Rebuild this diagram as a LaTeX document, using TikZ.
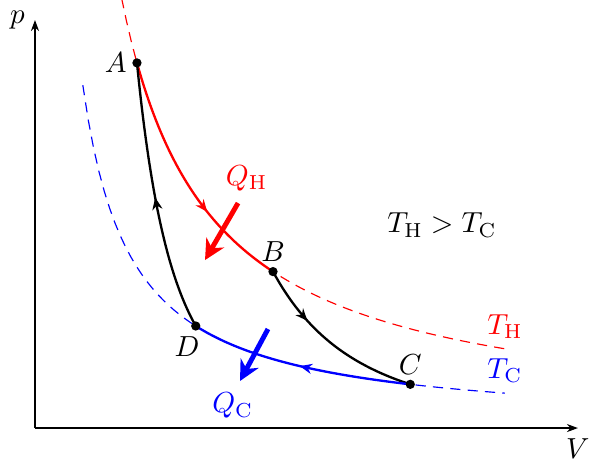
\documentclass[tikz,border=0pt]{standalone}
\usetikzlibrary{arrows.meta,decorations.markings}
\tikzset{
  midarrow/.style={postaction={decorate},decoration={markings,
    mark=at position #1 with {\arrow{Stealth[length=4.2pt,width=3.5pt]}}}},
  midarrow/.default=0.5,
  heat/.style={line width=1.7pt,-{Stealth[length=7pt,width=7pt]}},
  iso/.style={dash pattern=on 3.5pt off 2.5pt}
}
\begin{document}
\begin{tikzpicture}[>={Stealth[length=3.8pt,width=2.8pt]}]
\useasboundingbox (-0.424,-0.485) rectangle (6.848,5.188);
\pgfmathsetmacro\kH{5.47}
\pgfmathsetmacro\kC{2.41}
\pgfmathsetmacro\gam{2.8}
\pgfmathsetmacro\VA{1.236}
\pgfmathsetmacro\VB{2.885}
\pgfmathsetmacro\rat{(\kH/\kC)^(1/(\gam-1))}
\pgfmathsetmacro\VC{\VB*\rat}
\pgfmathsetmacro\VD{\VA*\rat}
\coordinate (A) at (\VA,{\kH/\VA});
\coordinate (B) at (\VB,{\kH/\VB});
\coordinate (C) at (\VC,{\kC/\VC});
\coordinate (D) at (\VD,{\kC/\VD});

\draw[->](0,0)--(6.58,0)node[below](lV){$V$};
\draw[->](0,0)--(0,4.945)node[left](lp){$p$};

% isotherms
\draw[red,iso,domain=1.05:5.697,samples=80] plot (\x,{\kH/\x}) node[above](lTH){$T_\mathrm{H}$};
\draw[blue,iso,domain=0.58:5.697,samples=80] plot (\x,{\kC/\x}) node[above](lTC){$T_\mathrm{C}$};

% cycle
\draw[red,thick,midarrow=.65,domain=\VA:\VB,samples=60] plot (\x,{\kH/\x});
\draw[thick,midarrow=.33,domain=\VB:\VC,samples=60] plot (\x,{\kH/\VB*pow(\VB/\x,\gam)});
\draw[blue,thick,midarrow,domain=\VC:\VD,samples=60] plot (\x,{\kC/\x});
\draw[thick,midarrow,domain=\VD:\VA,samples=60] plot (\x,{\kH/\VA*pow(\VA/\x,\gam)});

\fill (A) circle (1.6pt) node[left](lA){$A$};
\fill (B) circle (1.6pt) node[above](lB){$B$};
\fill (C) circle (1.6pt) node[above](lC){$C$};
\fill (D) circle (1.6pt) node[below,xshift=-3pt](lD){$D$};

% heat
\coordinate (qh1) at (2.461,2.727);
\coordinate (qh2) at (2.061,2.036);
\coordinate (qc1) at (2.824,1.2);
\coordinate (qc2) at (2.485,0.570);
\draw[heat,red](qh1)node[above,xshift=3pt](lQH){$Q_\mathrm{H}$}--(qh2);
\draw[heat,blue](qc1)--(qc2)node[below,xshift=-2.5pt](lQC){$Q_\mathrm{C}$};

\node (cmp) at (4.933,2.461) {$T_\mathrm{H}>T_\mathrm{C}$};
\end{tikzpicture}
\end{document}
